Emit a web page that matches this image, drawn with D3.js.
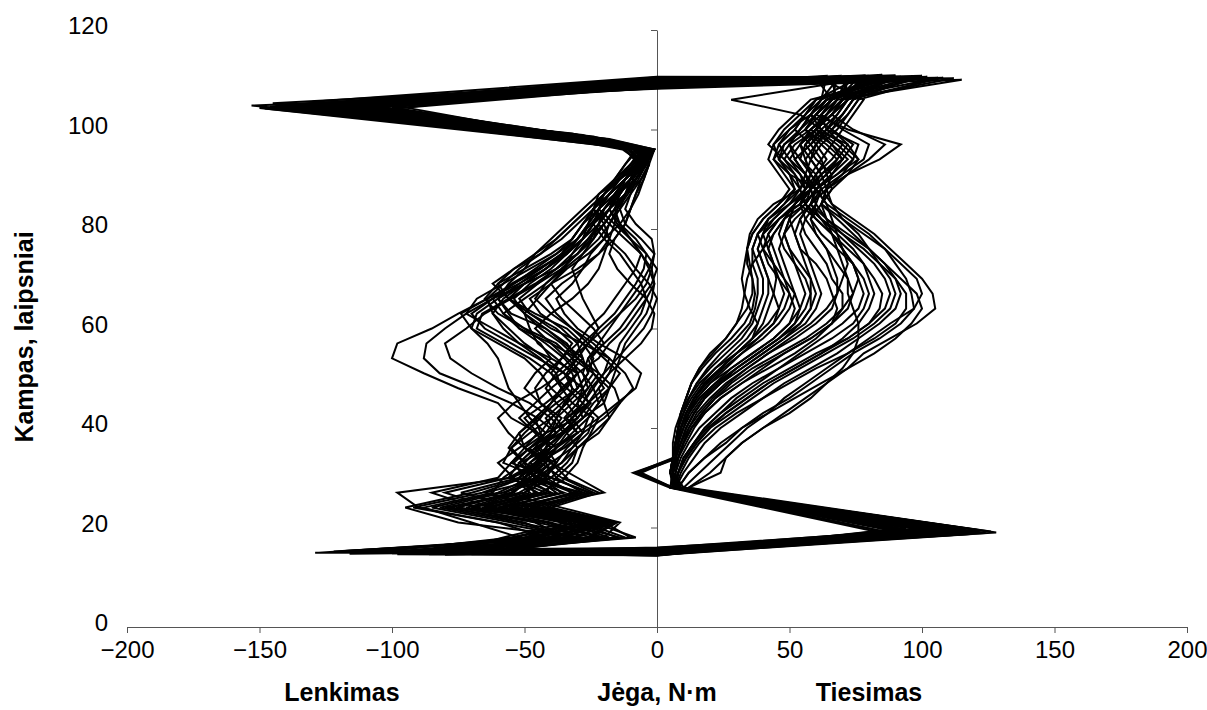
<!DOCTYPE html>
<meta charset="utf-8">
<script src="https://d3js.org/d3.v7.min.js"></script>
<style>
  body { margin: 0; background: #fff; }
  text { font-family: "Liberation Sans", Arial, sans-serif; fill: #000; }
</style>
<div id="chart"></div>
<script>

// angle levels (degrees) read for the flexion (going up) and extension (going down) phases
var flexAngles = [18, 21, 24, 27, 30, 33, 36, 39, 42, 45, 48, 51, 54, 57, 60, 63, 66, 69, 72, 75, 78, 81, 84, 87, 90, 93, 96];
var extAngles = [106, 103, 100, 97, 94, 91, 88, 85, 82, 79, 76, 73, 70, 67, 64, 61, 58, 55, 52, 49, 46, 43, 40, 37, 34, 31, 28];

// force (N·m) of each cycle at the flexion angles
var flexForces = [
  [-40,-22,-70,-45,-55,-42,-50,-45,-55,-60,-75,-88,-100,-98,-85,-75,-64,-52,-42,-35,-28,-24,-18,-15,-10,-8,-4],
  [-30,-55,-85,-60,-48,-40,-45,-38,-45,-55,-68,-82,-88,-87,-80,-72,-62,-50,-38,-30,-26,-20,-16,-12,-8,-4,-9],
  [-50,-20,-55,-30,-45,-52,-40,-35,-40,-48,-60,-70,-78,-80,-72,-65,-55,-45,-36,-30,-24,-22,-20,-14,-10,-6,-3],
  [-35,-18,-60,-35,-50,-45,-38,-30,-35,-30,-28,-30,-40,-52,-62,-72,-68,-58,-48,-38,-30,-25,-20,-15,-10,-6,-12],
  [-20,-45,-80,-50,-40,-55,-50,-42,-30,-25,-32,-35,-45,-55,-65,-70,-62,-55,-45,-35,-28,-22,-18,-12,-8,-4,-1],
  [-25,-15,-40,-22,-35,-30,-28,-25,-22,-28,-25,-20,-15,-10,-5,-2,0,-3,-8,-12,-18,-22,-20,-15,-8,-4,-7],
  [-45,-25,-65,-40,-52,-48,-40,-30,-22,-15,-8,-6,-12,-22,-30,-35,-38,-32,-28,-25,-20,-18,-14,-10,-8,-5,-2],
  [-30,-60,-90,-98,-55,-45,-35,-28,-20,-14,-9,-12,-18,-28,-40,-48,-52,-45,-38,-30,-25,-22,-18,-12,-6,-3,-6],
  [-15,-30,-50,-25,-40,-48,-42,-35,-28,-30,-26,-22,-25,-20,-14,-10,-6,-2,0,-4,-10,-15,-18,-14,-10,-5,-11],
  [-55,-30,-75,-55,-48,-50,-45,-40,-38,-35,-30,-32,-38,-45,-48,-50,-45,-40,-35,-32,-28,-24,-20,-16,-12,-6,-2],
  [-10,-20,-45,-65,-42,-38,-50,-52,-45,-38,-30,-26,-28,-35,-42,-55,-60,-52,-44,-36,-30,-26,-22,-18,-12,-7,-4],
  [-38,-22,-55,-28,-38,-32,-30,-22,-18,-20,-22,-18,-12,-6,-2,-1,-4,-10,-15,-18,-16,-12,-10,-8,-5,-3,-8],
  [-28,-75,-95,-70,-50,-42,-38,-45,-50,-42,-35,-30,-32,-38,-50,-60,-65,-60,-50,-40,-32,-28,-22,-16,-10,-5,-1],
  [-42,-18,-48,-20,-30,-40,-32,-26,-24,-32,-36,-30,-22,-18,-12,-8,-4,-1,-2,-1,-6,-12,-14,-12,-8,-4,-6],
  [-22,-40,-68,-85,-60,-55,-48,-38,-32,-26,-28,-35,-42,-50,-56,-62,-58,-50,-42,-34,-30,-25,-20,-15,-10,-5,-10],
  [-48,-25,-58,-36,-44,-58,-55,-48,-40,-34,-32,-34,-30,-26,-22,-25,-28,-30,-32,-28,-24,-20,-16,-12,-9,-5,-2],
  [-32,-16,-42,-24,-36,-44,-36,-30,-34,-26,-20,-24,-26,-22,-18,-14,-10,-6,-3,-1,-2,-8,-12,-10,-6,-3,-5],
  [-52,-70,-88,-62,-58,-50,-55,-50,-44,-40,-36,-40,-48,-58,-68,-66,-56,-46,-38,-32,-26,-22,-18,-14,-10,-5,-13],
  [-18,-35,-52,-32,-46,-36,-30,-24,-18,-14,-16,-22,-30,-40,-52,-58,-50,-42,-35,-28,-22,-18,-15,-11,-7,-4,-1],
  [-40,-22,-62,-46,-52,-46,-40,-46,-52,-46,-40,-33,-28,-30,-36,-44,-48,-40,-30,-22,-18,-16,-15,-12,-8,-4,-7],
  [-12,-28,-70,-42,-38,-42,-46,-36,-30,-26,-22,-18,-16,-14,-10,-6,-4,-6,-10,-14,-20,-24,-22,-18,-12,-6,-3],
  [-36,-50,-78,-55,-45,-38,-42,-40,-36,-44,-50,-46,-40,-44,-52,-56,-60,-56,-50,-46,-40,-34,-28,-22,-14,-7,-12],
  [-26,-18,-46,-28,-50,-54,-48,-42,-38,-32,-26,-28,-34,-40,-46,-40,-32,-26,-22,-20,-18,-20,-24,-20,-14,-7,-2],
  [-44,-24,-56,-38,-46,-40,-50,-56,-60,-54,-44,-36,-30,-34,-42,-50,-54,-48,-40,-34,-28,-26,-22,-16,-10,-5,-8],
  [-8,-24,-62,-80,-56,-46,-38,-32,-26,-22,-24,-28,-26,-20,-24,-30,-36,-40,-34,-26,-20,-14,-10,-8,-6,-3,-1],
  [-58,-34,-66,-48,-54,-60,-52,-44,-46,-40,-34,-30,-35,-42,-50,-58,-62,-54,-46,-38,-32,-28,-24,-18,-12,-6,-10],
  [-20,-14,-36,-58,-40,-34,-30,-34,-28,-24,-18,-14,-20,-26,-32,-38,-42,-36,-28,-22,-16,-12,-10,-7,-5,-3,-4],
  [-34,-46,-72,-52,-42,-50,-44,-38,-42,-36,-30,-26,-24,-28,-34,-46,-56,-62,-54,-44,-36,-30,-24,-18,-12,-6,-2],
  [-46,-28,-64,-40,-50,-44,-48,-40,-34,-28,-24,-20,-18,-24,-32,-40,-46,-42,-36,-30,-24,-20,-16,-12,-10,-8,-6],
  [-24,-52,-82,-58,-46,-52,-46,-36,-30,-34,-40,-44,-50,-60,-70,-74,-64,-54,-44,-36,-30,-26,-24,-20,-16,-12,-8],
  [-36,-20,-50,-32,-42,-38,-34,-28,-26,-22,-18,-16,-14,-12,-8,-4,-2,-1,-3,-6,-10,-14,-16,-14,-12,-9,-5],
  [-54,-26,-60,-42,-56,-52,-46,-42,-48,-52,-56,-58,-60,-64,-70,-68,-60,-50,-42,-34,-28,-24,-22,-18,-14,-10,-6],
  [-14,-36,-64,-44,-34,-40,-44,-38,-32,-28,-34,-40,-36,-30,-26,-20,-16,-12,-8,-6,-10,-16,-22,-20,-16,-12,-7],
  [-30,-18,-52,-74,-52,-44,-40,-44,-40,-34,-28,-24,-30,-36,-44,-50,-56,-50,-42,-36,-32,-28,-24,-20,-15,-10,-4],
  [-42,-60,-92,-66,-50,-46,-42,-36,-28,-20,-18,-24,-32,-28,-22,-16,-12,-8,-5,-4,-8,-14,-18,-16,-12,-8,-3],
  [-26,-16,-44,-26,-40,-50,-56,-52,-46,-40,-36,-38,-44,-52,-58,-62,-64,-58,-52,-44,-38,-32,-26,-20,-14,-8,-4],
  [-50,-32,-70,-50,-44,-36,-32,-28,-32,-38,-42,-38,-32,-26,-20,-14,-8,-4,-2,-6,-12,-18,-24,-22,-16,-10,-5],
  [-20,-42,-76,-54,-48,-42,-38,-34,-38,-44,-46,-42,-36,-32,-38,-48,-56,-60,-54,-46,-38,-32,-26,-20,-14,-9,-4]
];

// force (N·m) of each cycle at the extension angles
var extForces = [
  [68,62,70,80,78,70,62,66,74,82,88,94,100,104,105,98,88,78,72,64,56,48,40,32,26,20,12],
  [72,66,74,86,80,72,64,62,70,78,86,92,98,100,97,88,80,72,64,56,48,42,34,28,22,16,10],
  [64,58,66,74,70,66,60,64,72,80,86,90,94,96,97,92,84,74,66,58,50,40,32,26,18,12,8],
  [70,64,60,72,76,68,60,58,64,72,80,86,90,92,90,84,76,68,58,48,40,32,24,18,14,10,7],
  [66,60,56,64,70,62,56,54,60,66,72,78,82,85,84,80,72,60,50,40,32,24,18,14,10,8,6],
  [74,70,64,70,66,60,58,60,58,62,68,74,78,80,78,74,66,56,46,36,28,22,16,12,9,7,6],
  [62,56,52,58,62,58,54,56,62,66,70,74,76,74,70,64,56,46,36,28,22,17,13,10,8,6,5],
  [76,72,68,62,58,56,60,64,66,68,70,72,70,68,66,60,52,42,34,26,20,15,12,9,7,6,5],
  [64,58,50,46,50,56,54,48,42,40,42,44,45,44,42,40,36,30,24,18,14,11,9,7,6,5,6],
  [70,66,60,52,48,52,56,50,44,38,36,38,40,40,38,36,32,26,20,15,12,10,8,7,6,5,7],
  [60,54,48,44,46,50,52,46,40,36,34,34,36,37,36,33,28,22,17,13,11,9,8,7,6,6,8],
  [28,54,62,58,52,56,58,52,46,42,40,42,46,50,52,50,44,36,28,22,16,12,10,8,7,6,9],
  [68,62,56,48,44,50,60,56,48,44,40,36,34,33,35,38,36,30,24,18,14,11,9,8,7,6,10],
  [72,68,62,56,54,58,62,60,56,54,56,58,60,62,60,56,48,40,32,24,18,14,11,9,7,6,6],
  [66,60,72,92,84,72,64,66,70,76,80,84,88,90,88,82,74,64,54,44,36,28,20,15,11,8,7],
  [68,64,58,54,58,62,58,50,44,40,38,40,42,44,46,44,38,30,22,16,12,9,7,6,6,-8,6],
  [62,58,54,50,54,60,62,54,46,42,44,46,48,50,48,44,38,32,26,20,15,12,9,7,7,-9,5],
  [78,74,70,66,62,64,66,62,58,60,64,66,68,68,64,58,50,42,34,27,21,16,12,10,8,7,7],
  [70,64,58,66,72,66,60,56,60,66,70,74,76,78,76,70,62,54,46,38,30,24,18,14,10,8,7],
  [58,52,46,42,48,54,58,54,46,40,38,40,42,42,40,38,34,28,22,17,13,10,8,7,6,6,8],
  [66,60,54,48,46,52,54,44,38,35,34,35,36,36,34,30,26,20,16,13,11,9,8,7,6,5,9],
  [74,70,66,72,68,62,58,60,64,66,68,70,72,72,74,76,76,74,70,64,58,50,40,32,26,24,12],
  [64,60,56,60,64,60,56,52,50,52,54,56,58,58,56,52,46,38,30,23,17,13,10,8,7,6,6],
  [70,66,60,54,50,54,56,52,48,46,48,52,54,56,54,50,44,36,28,20,15,11,9,8,7,-6,6],
  [68,62,60,68,74,70,64,62,68,74,80,86,92,98,100,96,90,82,72,62,52,42,32,24,18,12,8],
  [72,66,60,54,56,58,56,52,50,48,46,48,50,52,50,46,40,32,25,19,14,11,9,8,7,6,7],
  [66,62,64,76,74,68,60,58,62,68,74,78,80,82,80,76,70,62,52,42,34,26,19,14,10,8,7],
  [60,56,52,46,44,48,52,48,42,38,36,36,38,38,37,35,30,24,19,15,12,10,8,7,6,5,8],
  [70,66,58,50,46,50,54,50,42,38,40,44,48,52,54,52,46,38,30,24,18,14,11,9,7,6,8],
  [64,58,62,70,76,72,66,62,64,70,76,82,86,88,86,80,72,62,52,42,34,26,20,15,11,8,6],
  [74,70,64,58,52,56,60,56,50,48,50,54,58,60,58,54,46,38,30,22,16,12,10,8,7,6,10],
  [66,60,56,62,68,64,58,54,56,60,64,68,72,74,72,66,58,48,38,30,22,17,13,10,8,6,6],
  [60,56,50,44,42,46,50,46,40,36,34,33,32,33,32,30,26,21,16,13,11,9,8,7,6,5,9],
  [72,68,64,60,56,58,62,58,54,52,54,60,64,66,68,66,60,52,42,32,24,18,14,11,8,-7,6],
  [68,64,60,66,70,64,58,56,62,70,78,84,90,94,94,90,82,72,60,50,40,30,22,16,12,9,7],
  [62,58,54,50,52,56,58,52,48,44,42,44,46,48,46,42,36,30,24,18,14,11,9,7,6,5,7],
  [76,72,66,60,58,62,64,58,52,48,50,52,56,58,58,54,48,40,32,24,18,14,11,9,7,6,8],
  [70,64,60,56,60,66,64,58,54,56,60,64,66,70,70,66,58,48,40,32,24,18,13,10,8,7,7]
];

// turning points of each cycle, [force, angle]
var bottomLeft = [[-129,14.9],[-122,15.2],[-116,14.7],[-110,15.4],[-104,15],[-98,14.6],[-95,15.3],[-92,14.9],[-88,15.5],[-85,14.8],[-82,15.1],[-80,14.5],[-78,15.3],[-75,14.9],[-72,15.6],[-70,15],[-68,14.7],[-65,15.4],[-62,15.1],[-60,14.8],[-58,15.5],[-90,15.2],[-100,14.8],[-112,15.1],[-86,14.6],[-76,15.5],[-66,15],[-55,15.3],
  [-96,15],[-84,14.7],[-74,15.4],[-108,14.9],[-64,15.2],[-118,15.3],[-79,14.8],[-93,15.4],[-70,14.6],[-102,15.1]];
var topBend = [[-30,98.2],[-22,97.6],[-35,98.8],[-28,98],[-18,97.4],[-25,98.5],[-32,98.1],[-20,97.8],[-38,99],[-26,98.3],[-30,97.9],[-24,98.6],[-34,98.4],[-16,97.5],[-28,98.9],[-22,98],[-36,98.7],[-30,97.7],[-20,98.2],[-26,98.5],[-32,97.9],[-40,99.1],[-24,98.3],[-28,97.6],[-18,98.1],[-34,98.8],[-22,97.8],[-30,98.4],
  [-26,97.2],[-38,98.6],[-18,96.8],[-32,99.2],[-24,97.5],[-44,99.4],[-20,97],[-30,98.7],[-36,98.2],[-22,96.9]];
var topLeft = [[-153,104.8],[-148,104.2],[-145,105.3],[-140,104.5],[-138,103.8],[-135,105],[-132,104.4],[-130,105.6],[-128,104],[-126,104.9],[-124,105.2],[-122,103.9],[-120,104.6],[-118,105.4],[-116,104.1],[-114,104.8],[-112,103.6],[-110,105],[-108,104.3],[-106,104.7],[-104,103.9],[-102,105.1],[-100,104.4],[-142,104],[-136,104.6],[-127,103.7],[-119,105.3],[-111,104.5],
  [-150,104.3],[-144,105],[-137,104.2],[-133,104.9],[-129,104.4],[-123,104.9],[-117,104.2],[-113,105.2],[-107,104.8],[-146,104.6]];
var topCross = [108.2,108.8,109.4,108.5,110.2,109,108.3,110.6,109.7,108.9,110,108.6,109.2,110.4,108.4,109.5,108.7,110.1,109.3,108.8,109.9,108.5,110.3,109.1,108.6,109.8,110.5,108.9,
  109.6,108.4,110.1,109,108.7,110.4,109.3,108.9,109.7,110.2];
var topRight = [[115,110],[108,110.4],[100,110.8],[95,109.8],[92,110.6],[88,110.2],[85,111],[82,110.5],[80,109.6],[78,110.9],[76,110.3],[74,109.9],[72,110.7],[70,110.1],[68,110.5],[66,109.7],[64,110.8],[62,110.2],[90,110.9],[86,109.8],[84,110.4],[98,110.6],[104,110.1],[79,110.8],[75,109.9],[71,110.6],[60,110.3],[94,110.5],
  [112,110.3],[102,110.6],[96,110.2],[87,110.7],[83,110],[77,110.6],[73,110.2],[69,110.8],[106,110.4],[89,110.1]];
var bottomRight = [[128,19],[122,19.4],[118,18.8],[115,19.6],[112,19.2],[110,18.6],[108,19.8],[105,19.1],[102,18.7],[100,19.5],[98,18.9],[96,19.3],[94,19.9],[92,18.5],[90,19.2],[88,19.6],[86,18.8],[120,19.1],[116,19.5],[113,18.9],[106,19.4],[103,18.6],[99,19.7],[95,19],[91,19.3],[111,19.8],[124,18.9],[97,19.2],
  [126,19.2],[119,18.7],[114,19.4],[109,19],[104,19.6],[101,18.9],[93,19.4],[89,18.8],[121,19.5],[107,19.2]];
var bottomCross = [15,14.6,15.4,14.8,15.8,14.4,15.2,16,14.7,15.5,14.9,15.6,14.3,15.1,15.9,14.5,15.3,14.8,15.7,14.6,15,15.4,14.4,15.8,14.9,15.2,14.7,15.5,
  15.1,14.5,15.6,14.8,15.3,14.4,15.7,15,14.6,15.4];

var xTicks = [-200, -150, -100, -50, 0, 50, 100, 150, 200];
var yTicks = [0, 20, 40, 60, 80, 100, 120];

// set the dimensions and margins of the graph
var margin = {top: 30, right: 20, bottom: 83, left: 127},
    width = 1207 - margin.left - margin.right,
    height = 710 - margin.top - margin.bottom;

var svg = d3.select("#chart")
  .append("svg")
    .attr("width", width + margin.left + margin.right)
    .attr("height", height + margin.top + margin.bottom)
  .append("g")
    .attr("transform", "translate(" + margin.left + "," + margin.top + ")");

var x = d3.scaleLinear().domain([-200, 200]).range([0, width]);
var y = d3.scaleLinear().domain([0, 120]).range([height, 0]);

// X axis along angle 0
var xAxis = svg.append("g")
  .attr("transform", "translate(0," + y(0) + ")")
  .call(d3.axisBottom(x).tickValues(xTicks).tickSize(6).tickSizeOuter(0));
xAxis.selectAll("text")
  .attr("y", 14)
  .attr("dy", "0.71em")
  .style("font-size", "24px");

// Y axis crosses at force 0, its labels sit on the left edge
svg.append("g")
  .attr("transform", "translate(" + x(0) + ",0)")
  .call(d3.axisLeft(y).tickValues(yTicks).tickSize(6).tickSizeOuter(0).tickFormat(""));

svg.selectAll(".domain, .tick line")
  .attr("stroke", "#555")
  .attr("stroke-width", 1);

svg.append("g").selectAll("text")
  .data(yTicks)
  .enter().append("text")
    .attr("x", -19)
    .attr("y", function(d) { return y(d) + 4; })
    .attr("text-anchor", "end")
    .style("font-size", "24px")
    .text(function(d) { return d; });

// one closed loop per movement cycle
var cycles = flexForces.map(function(f, i) {
  var pts = [[0, bottomCross[i]], bottomLeft[i]];
  flexAngles.forEach(function(a, k) { pts.push([f[k], a]); });
  pts.push(topBend[i], topLeft[i], [0, topCross[i]], topRight[i]);
  extAngles.forEach(function(a, k) { pts.push([extForces[i][k], a]); });
  pts.push(bottomRight[i], [0, bottomCross[i]]);
  return pts;
});

var line = d3.line()
  .x(function(d) { return x(d[0]); })
  .y(function(d) { return y(d[1]); });

svg.append("g")
  .selectAll("path")
  .data(cycles)
  .enter().append("path")
    .attr("d", line)
    .attr("fill", "none")
    .attr("stroke", "#000")
    .attr("stroke-width", 2)
    .attr("stroke-linejoin", "miter");

// axis titles
svg.append("text")
  .attr("transform", "translate(" + (33 - margin.left) + "," + (337 - margin.top) + ") rotate(-90)")
  .attr("text-anchor", "middle")
  .style("font-size", "25px")
  .style("font-weight", "bold")
  .text("Kampas, laipsniai");

var titles = [["Lenkimas", -100], ["Jėga, N·m", 0], ["Tiesimas", 80]];
svg.selectAll(".xtitle")
  .data(titles)
  .enter().append("text")
    .attr("x", function(d) { return x(d[1]) + (d[1] === -100 ? -50 : 0); })
    .attr("y", 701 - margin.top)
    .attr("text-anchor", "middle")
    .style("font-size", "25px")
    .style("font-weight", "bold")
    .text(function(d) { return d[0]; });

</script>
